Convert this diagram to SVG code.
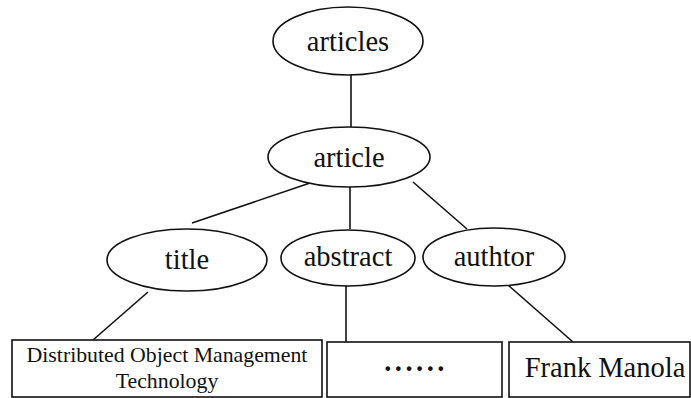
<svg xmlns="http://www.w3.org/2000/svg" width="691" height="398" viewBox="0 0 691 398">
<style>
.n{fill:#fff;stroke:#111;stroke-width:1.6}
.t{font-family:"Liberation Serif","Times New Roman",serif;font-size:28.5px;fill:#111;text-anchor:middle}
.s{font-size:21.8px}
.e{stroke:#111;stroke-width:1.6;fill:none}
</style>
<rect width="691" height="398" fill="#fff"/>
<g id="connectors">
<line class="e" x1="351" y1="75" x2="351" y2="127"/>
<line class="e" x1="310" y1="183" x2="192" y2="223"/>
<line class="e" x1="350" y1="187" x2="350" y2="229"/>
<line class="e" x1="413" y1="182" x2="467" y2="229"/>
<line class="e" x1="148" y1="292" x2="93" y2="340"/>
<line class="e" x1="346" y1="286" x2="346" y2="342"/>
<line class="e" x1="508" y1="285" x2="573" y2="342"/>
</g>
<g id="articles">
<ellipse class="n" cx="348" cy="41" rx="75" ry="34"/>
<text class="t" x="348" y="51">articles</text>
</g>
<g id="article">
<ellipse class="n" cx="349" cy="157" rx="81" ry="30"/>
<text class="t" x="349" y="167">article</text>
</g>
<g id="title">
<ellipse class="n" cx="187" cy="260" rx="80" ry="31"/>
<text class="t" x="187" y="269">title</text>
</g>
<g id="abstract">
<ellipse class="n" cx="348" cy="258" rx="67" ry="28"/>
<text class="t" x="348" y="266">abstract</text>
</g>
<g id="authtor">
<ellipse class="n" cx="494" cy="257" rx="71" ry="29"/>
<text class="t" x="494" y="266">authtor</text>
</g>
<g id="box-title">
<rect class="n" x="12" y="340" width="310" height="57"/>
<text class="t s" x="167" y="362">Distributed Object Management</text>
<text class="t s" x="167" y="388">Technology</text>
</g>
<g id="box-abstract">
<rect class="n" x="327" y="342" width="175" height="55"/>
<text class="t" x="416" y="371" style="font-weight:bold;letter-spacing:3.5px">......</text>
</g>
<g id="box-author">
<rect class="n" x="509" y="342" width="181" height="55"/>
<text class="t" x="605" y="377">Frank Manola</text>
</g>
</svg>
